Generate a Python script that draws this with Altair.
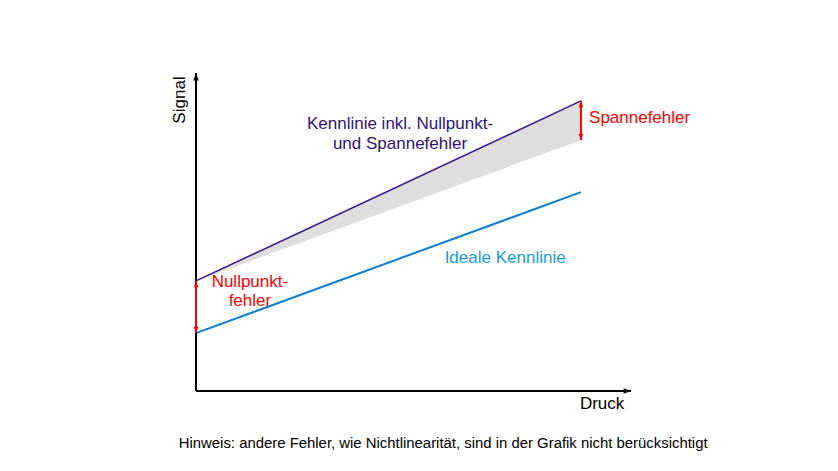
import altair as alt
import pandas as pd

# ---- data ----
druck = [0, 100]                 # pressure (start, end of characteristic)
ideal = [19.3, 66.3]             # ideal characteristic
real = [36.7, 96.7]              # characteristic incl. zero + span error
ideal_shifted = [36.7, 83.6]     # ideal shifted by the zero error
x_max = 113                      # end of the pressure axis
y_max = 106                      # end of the signal axis

FONT = "Liberation Sans"
RED = "#FF0000"
PURPLE_LINE = "#3B1A8C"
PURPLE_TEXT = "#2E1270"
BLUE_LINE = "#0A7ED3"
BLUE_TEXT = "#1A9ADB"

xs = alt.Scale(domain=[0, x_max], nice=False, zero=False)
ys = alt.Scale(domain=[0, y_max], nice=False, zero=False)

lines = pd.DataFrame({"druck": druck, "ideal": ideal, "real": real, "shift": ideal_shifted})
base = alt.Chart(lines)

band = base.mark_area(color="#DEDEDE", opacity=1).encode(
    x=alt.X("druck:Q", scale=xs, axis=None),
    y=alt.Y("real:Q", scale=ys, axis=None),
    y2="shift:Q",
)
ideal_line = base.mark_line(color=BLUE_LINE, strokeWidth=2).encode(
    x=alt.X("druck:Q", scale=xs, axis=None), y=alt.Y("ideal:Q", scale=ys, axis=None)
)
real_line = base.mark_line(color=PURPLE_LINE, strokeWidth=1.6).encode(
    x=alt.X("druck:Q", scale=xs, axis=None), y=alt.Y("real:Q", scale=ys, axis=None)
)

# axes with arrowheads
axes_df = pd.DataFrame({"x": [0, 0], "x2": [0, x_max], "y": [0, 0], "y2": [y_max, 0]})
axes = alt.Chart(axes_df).mark_rule(color="black", strokeWidth=2).encode(
    x=alt.X("x:Q", scale=xs, axis=None), x2="x2:Q",
    y=alt.Y("y:Q", scale=ys, axis=None), y2="y2:Q",
)
UP = "M0,0L-1,2.7L1,2.7Z"
DOWN = "M0,0L-1,-2.7L1,-2.7Z"
RIGHT = "M0,0L-2.7,-1L-2.7,1Z"

def head(x, y, shape, color, size):
    return alt.Chart(pd.DataFrame({"x": [x], "y": [y]})).mark_point(
        shape=shape, filled=True, opacity=1, color=color, size=size, strokeWidth=0
    ).encode(x=alt.X("x:Q", scale=xs, axis=None), y=alt.Y("y:Q", scale=ys, axis=None))

# error arrows
err_df = pd.DataFrame({
    "x": [druck[0], druck[1]],
    "y": [ideal[0], ideal_shifted[1]],
    "y2": [real[0], real[1]],
})
err_rules = alt.Chart(err_df).mark_rule(color=RED, strokeWidth=2).encode(
    x=alt.X("x:Q", scale=xs, axis=None), y=alt.Y("y:Q", scale=ys, axis=None), y2="y2:Q"
)

def label(x, y, text, color, size, align="center", angle=0, line_height=None):
    kw = dict(color=color, font=FONT, fontSize=size, align=align, baseline="middle", angle=angle)
    if line_height:
        kw["lineHeight"] = line_height
    return alt.Chart(pd.DataFrame({"x": [x], "y": [y], "t": [text]})).mark_text(**kw).encode(
        x=alt.X("x:Q", scale=xs, axis=None), y=alt.Y("y:Q", scale=ys, axis=None), text="t"
    )

labels = [
    label(-4.2, 97, "Signal", "black", 17, angle=270),
    label(105.5, -4.3, "Druck", "black", 17),
    label(53.0, 89.0, ["Kennlinie inkl. Nullpunkt-", "und Spannefehler"], PURPLE_TEXT, 17, line_height=20),
    label(80.3, 44.3, "Ideale Kennlinie", BLUE_TEXT, 17),
    label(102.1, 91, "Spannefehler", RED, 17, align="left"),
    label(14, 36.3, ["Nullpunkt-", "fehler"], RED, 17, line_height=19),
    label(64.2, -17.7, "Hinweis: andere Fehler, wie Nichtlinearität, sind in der Grafik nicht berücksichtigt", "black", 14.9),
]

chart = alt.layer(
    band, ideal_line, real_line, axes,
    head(0, y_max, UP, "black", 30), head(x_max, 0, RIGHT, "black", 30),
    err_rules,
    head(druck[0], real[0], UP, RED, 22), head(druck[0], ideal[0], DOWN, RED, 22),
    head(druck[1], real[1], UP, RED, 22), head(druck[1], ideal_shifted[1], DOWN, RED, 22),
    *labels,
).properties(
    width=435, height=318,
    autosize=alt.AutoSizeParams(type="none"),
    padding={"left": 196, "top": 73, "right": 207, "bottom": 80},
).configure_view(stroke=None)

chart.save("out.html", embed_options={"renderer": "svg", "actions": False})
